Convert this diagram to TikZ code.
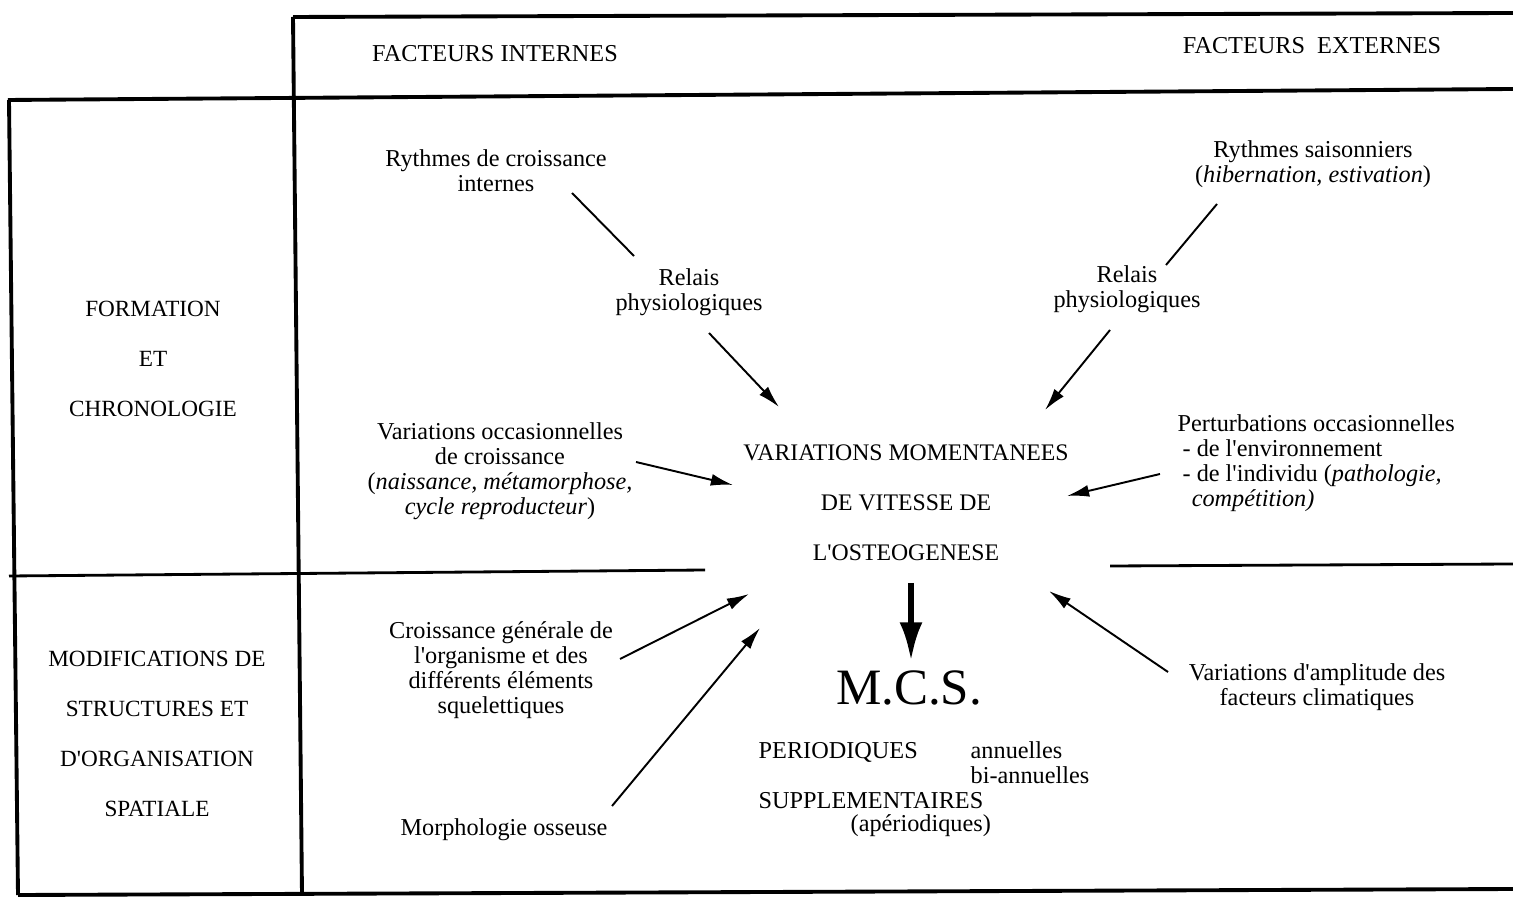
\documentclass[tikz,border=0pt]{standalone}
\usepackage{fontspec}
\setmainfont{Liberation Serif}
\usetikzlibrary{arrows.meta}
\newcommand{\ap}{\textquotesingle}

\begin{document}
\begin{tikzpicture}[
  x=0.01cm, y=-0.01cm,
  every node/.style={inner sep=0pt, font=\fontsize{6.9}{7.1}\selectfont},
  txt/.style={align=center},
  lefttxt/.style={align=left, anchor=west},
  caps/.style={align=center, font=\fontsize{6.6}{14.2}\selectfont},
  gridline/.style={line width=1.1pt},
  midline/.style={line width=0.8pt},
  link/.style={line width=0.55pt},
  arr/.style={line width=0.55pt, -{Latex[length=6.3pt,width=3.4pt]}},
  bigarr/.style={line width=1.7pt, -{Latex[length=11pt,width=6.5pt]}}
]
\useasboundingbox (0,0) rectangle (1513,898);

\draw[gridline] (293,17) -- (1513,13);
\draw[gridline] (8,100) -- (1513,89);
\draw[gridline] (9,100) -- (18,895);
\draw[gridline] (293,17) -- (302,895);
\draw[gridline] (18,895) -- (1513,889);
\draw[midline] (9,576) -- (705,570);
\draw[midline] (1110,566) -- (1513,564);

\node (hint) at (495,54) {FACTEURS INTERNES};
\node (hext) at (1312,46) {FACTEURS\ \ EXTERNES};

\node[caps] (rowf) at (153,359) {FORMATION\\ET\\CHRONOLOGIE};
\node[caps] (rowm) at (157,734) {MODIFICATIONS DE\\STRUCTURES ET\\D\ap ORGANISATION\\SPATIALE};

\node[txt] (rci) at (496,171) {Rythmes de croissance\\internes};
\node[txt] (rs) at (1313,164) {Rythmes saisonniers\\(\textit{hibernation, estivation})};
\node[txt] (rell) at (689,292) {Relais\\physiologiques};
\node[txt] (relr) at (1127,289) {Relais\\physiologiques};
\node[txt] (varocc) at (500,471) {Variations occasionnelles\\de croissance\\(\textit{naissance, métamorphose,}\\\textit{cycle reproducteur})};
\node[lefttxt] (pert) at (1177,463) {Perturbations occasionnelles\\
  \hspace*{1.4pt}- de l\ap environnement\\
  \hspace*{1.4pt}- de l\ap individu (\textit{pathologie,}\\
  \hspace*{4pt}\textit{compétition)}};
\node[caps, font=\fontsize{6.75}{14.2}\selectfont] (vmo) at (906,503) {VARIATIONS MOMENTANEES\\DE VITESSE DE\\L\ap OSTEOGENESE};
\node[txt] (cg) at (501,670) {Croissance générale de\\l\ap organisme et des\\différents éléments\\squelettiques};
\node[txt] (vda) at (1317,687) {Variations d\ap amplitude des\\facteurs climatiques};
\node (morph) at (504,830) {Morphologie osseuse};

\node[font=\fontsize{14.5}{16}\selectfont] (mcs) at (909,688) {M.C.S.};
\node[anchor=west] (per) at (758,752) {PERIODIQUES};
\node[lefttxt] (ann) at (970,763) {annuelles\\bi-annuelles};
\node[anchor=west] (sup) at (758,801) {SUPPLEMENTAIRES};
\node[anchor=west] (aper) at (850,826) {(apériodiques)};

\coordinate (rci-out) at (572,193);
\coordinate (rell-in) at (634,256);
\coordinate (rell-out) at (709,333);
\coordinate (vmo-nw) at (779,407);
\coordinate (rs-out) at (1217,204);
\coordinate (relr-in) at (1166,265);
\coordinate (relr-out) at (1110,330);
\coordinate (vmo-ne) at (1045,410);
\coordinate (varocc-out) at (636,462);
\coordinate (vmo-w) at (733,485);
\coordinate (pert-out) at (1160,474);
\coordinate (vmo-e) at (1067,496);
\coordinate (cg-out) at (620,659);
\coordinate (vmo-sw) at (749,594);
\coordinate (morph-out) at (612,806);
\coordinate (vmo-ssw) at (760,628);
\coordinate (vda-out) at (1168,672);
\coordinate (vmo-se) at (1049,591);
\coordinate (vmo-s) at (911,583);
\coordinate (mcs-n) at (911,661);

\draw[link] (rci-out) -- (rell-in);
\draw[arr] (rell-out) -- (vmo-nw);
\draw[link] (rs-out) -- (relr-in);
\draw[arr] (relr-out) -- (vmo-ne);
\draw[arr] (varocc-out) -- (vmo-w);
\draw[arr] (pert-out) -- (vmo-e);
\draw[arr] (cg-out) -- (vmo-sw);
\draw[arr] (morph-out) -- (vmo-ssw);
\draw[arr] (vda-out) -- (vmo-se);
\draw[bigarr] (vmo-s) -- (mcs-n);
\end{tikzpicture}
\end{document}
